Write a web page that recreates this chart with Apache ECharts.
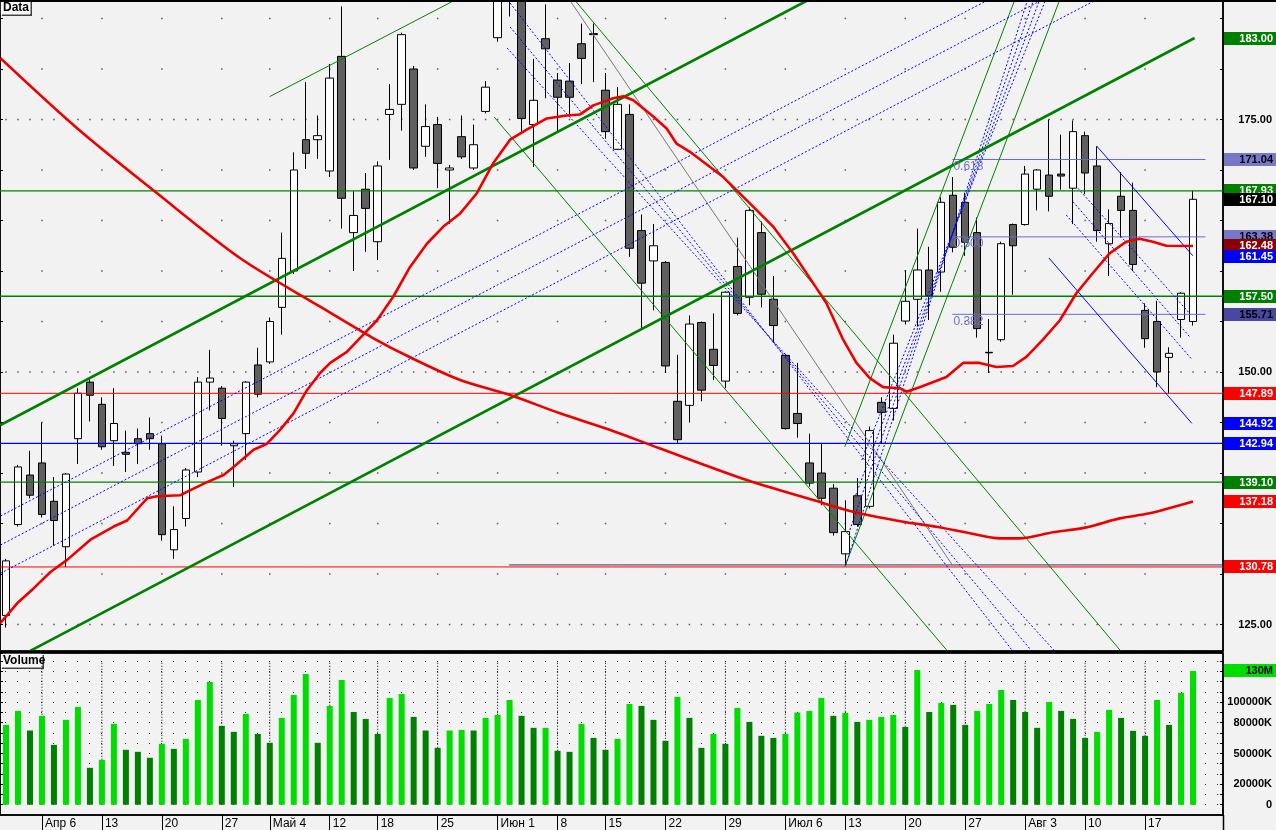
<!DOCTYPE html>
<html><head><meta charset="utf-8">
<script src="https://cdn.jsdelivr.net/npm/echarts@6/dist/echarts.min.js"></script>
<style>html,body{margin:0;padding:0;background:#f2f2f2;overflow:hidden}#c{width:1276px;height:830px}</style>
</head><body><div id="c"></div>
<script>
// ---------------- DATA ----------------
const dates = ['01.04','02.04','03.04','06.04','07.04','08.04','09.04','10.04','13.04','14.04','15.04','16.04','17.04','20.04','21.04','22.04','23.04','24.04','27.04','28.04','29.04','30.04',
'04.05','05.05','06.05','07.05','08.05','12.05','13.05','14.05','15.05','18.05','19.05','20.05','21.05','22.05','25.05','26.05','27.05','28.05','29.05',
'01.06','02.06','03.06','04.06','05.06','08.06','09.06','10.06','11.06','15.06','16.06','17.06','18.06','19.06','22.06','23.06','24.06','25.06','26.06','29.06','30.06',
'01.07','02.07','03.07','06.07','07.07','08.07','09.07','10.07','13.07','14.07','15.07','16.07','17.07','20.07','21.07','22.07','23.07','24.07','27.07','28.07','29.07','30.07','31.07',
'03.08','04.08','05.08','06.08','07.08','10.08','11.08','12.08','13.08','14.08','17.08','18.08','19.08','20.08','21.08'];

const open  = [125.9,134.9,139.8,141.0,137.2,132.7,143.4,149.0,146.8,143.2,142.05,143.4,143.9,142.9,132.4,135.5,140.1,149.0,148.4,142.7,143.9,150.7,151.0,156.4,160.0,173.0,173.0,169.9,181.25,163.8,168.1,162.9,175.5,176.5,180.0,172.35,174.5,170.0,173.3,170.2,175.8,183.1,189.0,187.5,174.5,183.0,178.9,178.8,182.5,183.5,177.9,172.05,175.5,164.0,161.0,160.85,147.1,146.7,154.9,152.25,149.1,160.45,157.4,163.8,157.2,151.65,145.9,141.0,140.0,138.5,132.0,137.75,136.7,147.0,146.4,155.05,157.2,160.1,159.9,167.5,166.8,163.8,151.95,153.2,164.6,164.6,168.1,169.5,169.6,168.2,173.4,170.4,162.7,167.4,166.0,156.1,155.0,151.45,155.2,155.0];
const high  = [131.5,140.8,142.2,145.0,139.6,140.0,148.4,149.4,147.5,148.4,144.2,144.4,145.5,143.7,136.7,140.5,149.5,152.2,148.6,143.2,149.1,152.4,155.4,163.8,171.75,178.7,175.4,180.5,186.2,167.9,169.7,170.85,178.5,183.6,180.3,176.5,175.25,170.5,175.4,174.5,178.8,188.0,190.0,189.0,181.0,186.4,179.6,180.6,184.5,184.5,179.6,178.2,176.5,165.6,164.65,161.0,151.7,155.6,155.0,155.8,158.0,163.3,166.3,164.9,159.5,151.8,150.9,143.9,142.9,138.9,137.3,139.5,144.6,147.5,153.7,160.1,164.2,162.4,167.3,169.3,167.75,165.3,155.25,162.9,164.7,170.4,170.1,175.0,173.5,174.9,173.8,172.35,166.1,169.8,168.75,156.8,157.05,152.45,157.9,167.95];
const low   = [124.7,134.7,137.5,135.6,132.8,130.7,140.9,145.1,142.3,140.7,140.1,140.9,142.3,133.3,131.5,134.7,139.6,146.2,142.7,138.6,141.3,147.5,150.8,153.7,159.7,170.1,171.1,169.3,164.2,160.0,161.9,161.1,171.0,173.9,170.0,171.3,168.2,164.65,171.1,170.0,175.6,182.7,185.2,173.8,170.3,177.1,173.8,175.3,178.5,178.7,173.1,172.0,161.4,154.3,156.1,149.9,143.0,145.0,147.1,149.2,148.4,155.6,156.6,156.4,152.9,144.3,143.5,138.65,136.8,133.8,130.78,134.7,136.5,142.9,145.2,154.7,154.5,155.15,157.95,161.85,161.5,153.4,149.9,153.0,157.65,164.5,166.0,165.9,168.05,164.65,167.6,162.9,159.5,163.3,160.0,152.4,148.5,147.89,153.4,154.6];
const close = [131.3,140.6,137.8,135.9,135.3,139.9,147.9,147.7,142.6,144.9,141.85,142.9,143.4,133.9,134.4,140.3,149.0,149.4,145.4,142.9,149.0,147.8,155.0,161.25,170.0,171.65,173.4,179.1,167.2,165.5,166.2,170.4,176.0,183.4,170.2,174.3,170.65,170.2,171.3,172.5,178.2,187.5,188.0,175.1,176.9,182.0,177.2,177.2,181.05,183.4,173.8,176.5,162.25,158.8,162.5,150.6,143.3,154.75,148.2,150.65,157.9,155.8,166.0,157.7,154.6,144.4,144.9,139.0,137.5,134.1,134.2,134.9,144.2,146.0,152.85,157.0,160.1,157.5,166.8,162.35,162.85,154.3,151.9,162.7,162.5,169.6,170.0,167.4,169.4,173.8,169.7,164.0,164.7,166.0,160.65,153.3,150.0,151.85,157.8,167.1];

// volume in millions, and bar colour flag (1 = bright green, 0 = dark green)
const volume = [77.9,91.5,72.4,86.7,58.4,82.8,95.4,36.0,43.8,78.9,53.6,51.6,45.8,59.4,54.5,64.3,102.2,119.8,76.9,71.1,88.6,69.1,60.4,84.7,107.1,127.6,60.4,96.4,121.7,90.5,83.7,69.1,104.2,108.1,85.7,72.4,55.5,72.4,73.0,72.4,84.7,87.6,102.2,86.7,75.0,75.0,52.6,51.6,78.9,65.2,53.6,64.3,98.3,96.4,82.8,62.3,105.2,84.7,55.5,69.1,59.4,94.4,80.8,67.2,65.2,69.1,89.9,91.5,104.2,86.7,89.6,80.8,82.8,85.7,87.6,75.9,131.4,90.5,99.3,97.4,77.9,91.5,98.3,112.0,102.2,90.5,75.0,100.3,91.5,83.7,65.2,71.1,92.5,84.7,72.1,67.2,102.2,77.9,109.1,130.5];
const volUp  = [1,1,0,1,0,1,1,0,1,1,0,0,0,1,0,1,1,1,0,0,1,0,0,1,1,1,0,1,1,0,0,0,1,1,0,0,0,1,1,0,1,1,1,0,0,1,0,0,1,0,0,1,1,0,0,0,1,0,0,1,0,1,0,0,0,1,1,1,1,0,1,0,1,1,1,0,1,0,1,0,0,1,1,1,0,0,0,1,0,0,0,1,1,0,0,0,1,0,1,1];

const weekStarts = [3,8,13,18,22,27,31,36,41,46,50,55,60,65,70,75,80,85,90,95];
const weekNames  = ['Апр 6','13','20','27','Май 4','12','18','25','Июн 1','8','15','22','29','Июл 6','13','20','27','Авг 3','10','17'];

// moving averages: [bar position, price]
const maFast = [[-0.46,125.15],[0.93,127.1],[2.32,128.6],[3.71,130.2],[5.1,131.4],[7.04,133.4],[8.98,134.7],[10.1,135.3],[11.77,137.5],[12.6,137.7],[14.54,137.8],[15.38,138.3],[16.77,139.1],[18.15,139.8],[18.98,140.6],[20.65,142.3],[21.77,142.9],[22.88,144.3],[23.98,145.9],[25.1,148.2],[26.2,149.9],[27.04,150.9],[28.43,152.0],[29.4,153.2],[30.93,155.1],[32.32,157.5],[33.7,160.4],[35.1,162.7],[36.48,164.4],[37.88,165.7],[39.27,167.7],[40.65,170.7],[42.04,173.0],[43.43,174.0],[45.1,175.1],[46.77,175.4],[47.88,175.5],[48.98,176.4],[50.65,177.1],[51.48,177.3],[52.32,176.9],[53.98,175.3],[55.1,174.1],[55.93,172.6],[57.04,171.8],[59.82,169.3],[62.04,166.7],[63.98,164.4],[65.65,161.75],[67.32,158.8],[68.43,156.8],[69.82,153.2],[70.93,150.9],[72.04,149.4],[73.15,148.5],[74.54,148.4],[75.1,148.05],[76.2,148.5],[78.43,149.5],[79.82,150.9],[81.2,150.9],[82.6,150.5],[83.98,150.6],[85.1,151.5],[86.48,153.2],[87.88,155.1],[89.27,157.8],[90.65,159.8],[92.04,161.75],[93.43,162.9],[94.54,163.2],[95.65,162.9],[96.77,162.5],[99,162.48]];
const maSlow = [[-0.46,181.06],[5.93,174.13],[12.6,167.69],[19.54,161.26],[26.2,156.47],[30.65,153.34],[33.7,151.46],[37.88,149.21],[42.04,147.72],[46.2,145.91],[50.4,144.26],[54.5,142.45],[61.77,139.31],[67.32,137.33],[70.65,136.17],[74.82,135.18],[77.6,134.68],[80.4,134.03],[82.9,133.53],[84.54,133.53],[87.32,134.13],[90.1,134.62],[92.88,135.51],[95.38,136.01],[99,137.18]];

// trend lines: [x1, price1, x2, price2]
const greenThick = [[-0.46,144.75,66.9,186.83],[1.9,122.31,99.13,183.07]];
const greenThin  = [[21.98,177.26,37.46,186.83],[47.43,186.83,93.02,122.31],[40.71,175.25,78.57,122.31],[69.96,142.6,84.13,186.83],[69.96,130.72,87.875,186.83]];
const grayThin   = [[47.01,186.83,78.93,130.89]];
const blueDotted = [[-0.46,135.74,81.9,186.83],[-0.46,132.87,86.4,186.83],[-0.46,130.07,90.9,186.83],
  [70.04,130.89,85.2,186.83],[70.38,134.36,85.7,186.83],[70.875,137.82,86.2,186.83],[71.375,141.29,86.7,186.83],
  [42.04,186.53,83.96,122.38],[42.04,184.16,85.54,122.38],[41.79,182.08,87.46,122.38],
  [88.43,165.54,98.9,151.26],[88.99,166.86,98.71,153.5],[89.4,168.19,98.71,155.81]];
const blueThin   = [[90.96,172.38,98.98,161.51],[86.98,161.29,98.9,144.92]];
const hGreen = [167.93,157.50,139.10];
const hRed   = [147.89,130.7];
const hBlue  = [142.94];
const lowLine = [41.96,130.9];
const fibLevels = [171.04,163.38,155.71];
const fibNames  = ['0.618','0.500','0.382'];
const fibStart = 78.93, fibEnd = 100.04;

const priceLabels = [125,150,175];
const priceTicks = [125,130,135,140,145,150,155,160,165,170,175,180,185];
const volLabels = [0,20,50,80,100];

const tagVals = [183.00,171.04,167.93,167.10,163.38,162.48,161.45,157.50,155.71,147.89,144.92,142.94,139.10,137.18,130.78];
const tagBg   = ['#008000','#7878c8','#008000','#000000','#7878c8','#8b0000','#0000ff','#008000','#4848a0','#ff0000','#0000ff','#0000ff','#008000','#ff0000','#ff0000'];
const tagFg   = ['#fff','#000','#fff','#fff','#000','#fff','#fff','#fff','#000','#fff','#fff','#fff','#fff','#fff','#fff'];
const volTagVal = 130.5, volTagText = '130M';

// ---------------- CHART ----------------
const chart = echarts.init(document.getElementById('c'));
const cats = dates.concat(['', '']);
const XMIN = -0.5, XMAX = cats.length - 0.5;
const PMIN = 122.38, PMAX = 186.83;
const FONT = '"Liberation Sans", Arial, sans-serif';

const series = [];
const dots = [];
priceTicks.forEach(v => {
  const xs = priceLabels.includes(v) ? cats.map((_, i) => i) : weekStarts;
  xs.forEach(x => dots.push([x, v]));
});
series.push({type:'scatter', xAxisIndex:1, yAxisIndex:0, data:dots, symbol:'rect', symbolSize:1.5,
  itemStyle:{color:'#333'}, silent:true, z:1});

series.push({type:'candlestick', xAxisIndex:0, yAxisIndex:0, barWidth:8, clip:true, silent:true, z:2,
  data: open.map((o, i) => [o, close[i], low[i], high[i]]),
  itemStyle:{color:'#ffffff', color0:'#5f5f5f', borderColor:'#000', borderColor0:'#000', borderWidth:1}});

function seg(a, style, z) {
  series.push({type:'line', xAxisIndex:1, yAxisIndex:0, data:[[a[0],a[1]],[a[2],a[3]]], symbol:'none',
    silent:true, clip:true, z:z || 3, lineStyle:style});
}
hGreen.forEach(v => seg([XMIN, v, XMAX, v], {color:'#008000', width:1.3}));
hRed.forEach(v => seg([XMIN, v, XMAX, v], {color:'#ff0000', width:1}));
hBlue.forEach(v => seg([XMIN, v, XMAX, v], {color:'#0000ff', width:1.3}));
seg([lowLine[0], lowLine[1], XMAX, lowLine[1]], {color:'#333355', width:1});
fibLevels.forEach(v => seg([fibStart, v, fibEnd, v], {color:'#6a6ad8', width:1}));
greenThin.forEach(a => seg(a, {color:'#008000', width:1}));
grayThin.forEach(a => seg(a, {color:'#777777', width:1}));
blueDotted.forEach(a => seg(a, {color:'#0000ff', width:1, type:[2,2]}));
blueThin.forEach(a => seg(a, {color:'#0000ff', width:1}));
greenThick.forEach(a => seg(a, {color:'#008000', width:2.6}, 4));

series.push({type:'line', xAxisIndex:1, yAxisIndex:0, data:maSlow, symbol:'none', smooth:0.3, silent:true, clip:true, z:5,
  lineStyle:{color:'#ee0000', width:2.6}});
series.push({type:'line', xAxisIndex:1, yAxisIndex:0, data:maFast, symbol:'none', silent:true, clip:true, z:5,
  lineStyle:{color:'#ee0000', width:2.6}});

// volume pane
weekStarts.forEach(i => {
  series.push({type:'line', xAxisIndex:3, yAxisIndex:1, data:[[i,0],[i,140]], symbol:'none', silent:true, z:1,
    lineStyle:{color:'#000', width:1, type:[1,2]}});
});
series.push({type:'bar', xAxisIndex:2, yAxisIndex:1, barWidth:6, silent:true, z:3,
  data: volume.map((v, i) => ({value:v, itemStyle:{color: volUp[i] ? '#00dd00' : '#008000'}}))});

const weekMap = {};
weekStarts.forEach((w, k) => weekMap[w] = weekNames[k]);

const axLine = {show:true, onZero:false, lineStyle:{color:'#000', width:1.5}};
chart.setOption({
  animation:false,
  backgroundColor:'#f2f2f2',
  grid:[
    {left:0, right:53, top:0, height:651, show:true, borderColor:'#000', borderWidth:1.5, backgroundColor:'#f2f2f2'},
    {left:0, right:53, top:653, height:162, show:true, borderColor:'#000', borderWidth:1.5, backgroundColor:'#f2f2f2'}
  ],
  xAxis:[
    {type:'category', gridIndex:0, data:cats, boundaryGap:true, show:false},
    {type:'value', gridIndex:0, min:XMIN, max:XMAX, show:false},
    {type:'category', gridIndex:1, data:cats, boundaryGap:true, position:'bottom',
      axisLine:axLine,
      axisTick:{show:true, alignWithLabel:true, length:16, interval:(i) => weekMap[i] !== undefined, lineStyle:{color:'#000'}},
      axisLabel:{interval:(i) => weekMap[i] !== undefined, formatter:(v, i) => weekMap[i] || '', align:'left', margin:3,
        padding:[0,0,0,3], color:'#000', fontSize:12, fontFamily:FONT},
      splitLine:{show:false}},
    {type:'value', gridIndex:1, min:XMIN, max:XMAX, show:false}
  ],
  yAxis:[
    {type:'value', gridIndex:0, position:'right', min:PMIN, max:PMAX,
      axisLine:axLine,
      axisTick:{show:true, inside:true, customValues:priceTicks, length:3, lineStyle:{color:'#000'}},
      axisLabel:{customValues:priceLabels, formatter:(v) => v.toFixed(2), align:'right', margin:49,
        color:'#000', fontWeight:'bold', fontSize:11, fontFamily:FONT},
      splitLine:{show:false}},
    {type:'value', gridIndex:1, position:'right', min:-10, max:148, interval:10,
      axisLine:axLine,
      axisTick:{show:true, inside:true, length:3, lineStyle:{color:'#000'}},
      axisLabel:{customValues:volLabels, formatter:(v) => v === 0 ? '0' : v + '000K', align:'right', margin:49,
        color:'#000', fontWeight:'bold', fontSize:11, fontFamily:FONT},
      splitLine:{show:true, lineStyle:{color:'#222', width:1, type:[1,11], dashOffset:7}}},
    {type:'value', gridIndex:0, position:'left', min:PMIN, max:PMAX,
      axisLine:axLine,
      axisTick:{show:true, inside:true, customValues:priceTicks, length:3, lineStyle:{color:'#000'}},
      axisLabel:{show:false}, splitLine:{show:false}},
    {type:'value', gridIndex:1, position:'left', min:-10, max:148, interval:10,
      axisLine:axLine,
      axisTick:{show:true, inside:true, length:3, lineStyle:{color:'#000'}},
      axisLabel:{show:false}, splitLine:{show:false}}
  ],
  series: series
});

// ---------- tags, captions, separators ----------
const g = [];
const tagH = 13;
function tag(y, text, bg, fg) {
  g.push({type:'group', x:1224, y:Math.round(y - tagH/2), z:100, children:[
    {type:'rect', shape:{x:0, y:0, width:52, height:tagH}, style:{fill:bg}},
    {type:'text', style:{text:text, x:49, y:tagH/2 + 0.5, align:'right', verticalAlign:'middle', fill:fg, font:'bold 11px ' + FONT}}
  ]});
}
tagVals.forEach((v, i) => tag(chart.convertToPixel({yAxisIndex:0}, v), v.toFixed(2), tagBg[i], tagFg[i]));
tag(chart.convertToPixel({yAxisIndex:1}, volTagVal), volTagText, '#00dd00', '#000');

fibLevels.forEach((v, i) => {
  const x = chart.convertToPixel({xAxisIndex:1}, fibStart);
  const y = chart.convertToPixel({yAxisIndex:0}, v);
  g.push({type:'text', x:x + 1, y:y + 1, z:50, style:{text:fibNames[i], fill:'#7070c0', font:'12px ' + FONT, align:'left', verticalAlign:'top'}});
});
const sepY = chart.convertToPixel({yAxisIndex:0}, PMIN);
g.push({type:'rect', z:60, shape:{x:0, y:sepY - 0.5, width:1223, height:3}, style:{fill:'#000'}});
g.push({type:'rect', z:60, shape:{x:0, y:0, width:1276, height:2}, style:{fill:'#000'}});
g.push({type:'line', z:60, shape:{x1:1223.5, y1:815, x2:1223.5, y2:830}, style:{stroke:'#000', lineWidth:1.5}});
[['Data', 1, 30], ['Volume', sepY + 3, 42]].forEach(([t, y, w]) => {
  g.push({type:'group', x:1, y:y, z:70, children:[
    {type:'rect', shape:{x:1, y:1, width:w, height:14}, style:{fill:'#404040'}},
    {type:'rect', shape:{x:0, y:0, width:w - 1, height:13}, style:{fill:'#f6f6f6', stroke:'#ffffff', lineWidth:1}},
    {type:'text', style:{text:t, x:2, y:7, verticalAlign:'middle', fill:'#000', font:'bold 12px ' + FONT}}
  ]});
});
chart.setOption({graphic:g});
</script>
</body></html>
